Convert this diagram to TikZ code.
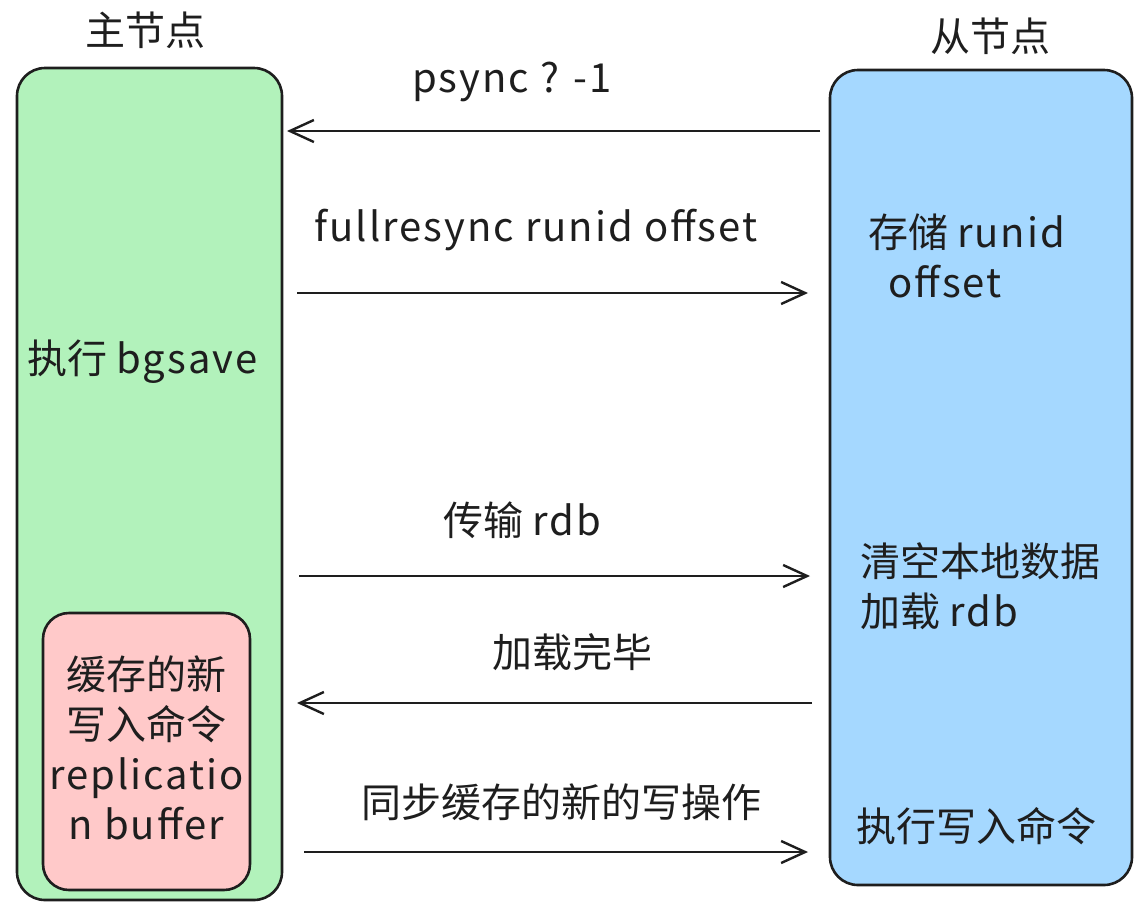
\documentclass[tikz,border=0pt]{standalone}
\usepackage{fontspec}
\setmainfont{Noto Sans CJK SC}
\newfontfamily\lat{Noto Sans CJK SC}[LetterSpace=5]
\usetikzlibrary{arrows.meta}
\definecolor{mgreen}{HTML}{B2F2BB}
\definecolor{sblue}{HTML}{A5D8FF}
\definecolor{bpink}{HTML}{FFC9C9}
\definecolor{ink}{HTML}{1E1E1E}
\tikzset{
  box/.style={draw=ink, line width=2.6pt, rounded corners=28pt, inner sep=0pt},
  lbl/.style={font=\fontsize{40}{50}\selectfont, text=ink, inner sep=0pt},
  msg/.style={draw=ink, line width=2.4pt, -{Straight Barb[length=24pt,width=22pt,line width=2.4pt]}},
}
\begin{document}
\begin{tikzpicture}[x=1pt,y=-1pt]
\useasboundingbox (0,0) rectangle (1142,908);
% boxes
\node[box, fill=mgreen, minimum width=265pt, minimum height=832pt] (master) at (149.5,484) {};
\node[box, fill=bpink, rounded corners=26pt, minimum width=207pt, minimum height=277pt] (buffer) at (146.5,751.5) {};
\node[box, fill=sblue, minimum width=302pt, minimum height=815pt] (slave) at (981,477.5) {};
% titles
\node[lbl] (tm) at (145,30) {主节点};
\node[lbl] (ts) at (990,36) {从节点};
% master texts
\node[lbl, anchor=west] (bg) at (27,362) {执行 {\lat bgsave}};
\node[lbl, align=center] (buf) at (146.5,748) {缓存的新\\写入命令\\{\lat replicatio}\\{\lat n buffer}};
% slave texts
\node[lbl, anchor=west, align=left] (st1) at (868,256) {存储 {\lat runid}\\\hspace{0.5em}{\lat offset}};
\node[lbl, anchor=west, align=left] (st2) at (860,586) {清空本地数据\\加载 {\lat rdb}};
\node[lbl, anchor=west] (st3) at (856,826) {执行写入命令};
% arrow endpoints
\coordinate (a1s) at (820,131); \coordinate (a1e) at (287,131);
\coordinate (a2s) at (297,293); \coordinate (a2e) at (808,293);
\coordinate (a3s) at (299,576); \coordinate (a3e) at (810,576);
\coordinate (a4s) at (812,703); \coordinate (a4e) at (297,703);
\coordinate (a5s) at (304,852); \coordinate (a5e) at (808,852);
\draw[msg] (a1s) -- (a1e);
\draw[msg] (a2s) -- (a2e);
\draw[msg] (a3s) -- (a3e);
\draw[msg] (a4s) -- (a4e);
\draw[msg] (a5s) -- (a5e);
% arrow labels
\node[lbl] (l1) at (512,82) {\lat psync ? -1};
\node[lbl] (l2) at (536,230) {\lat fullresync runid offset};
\node[lbl] (l3) at (522,520) {传输 {\lat rdb}};
\node[lbl] (l4) at (572,652) {加载完毕};
\node[lbl] (l5) at (561,802) {同步缓存的新的写操作};
\end{tikzpicture}
\end{document}
